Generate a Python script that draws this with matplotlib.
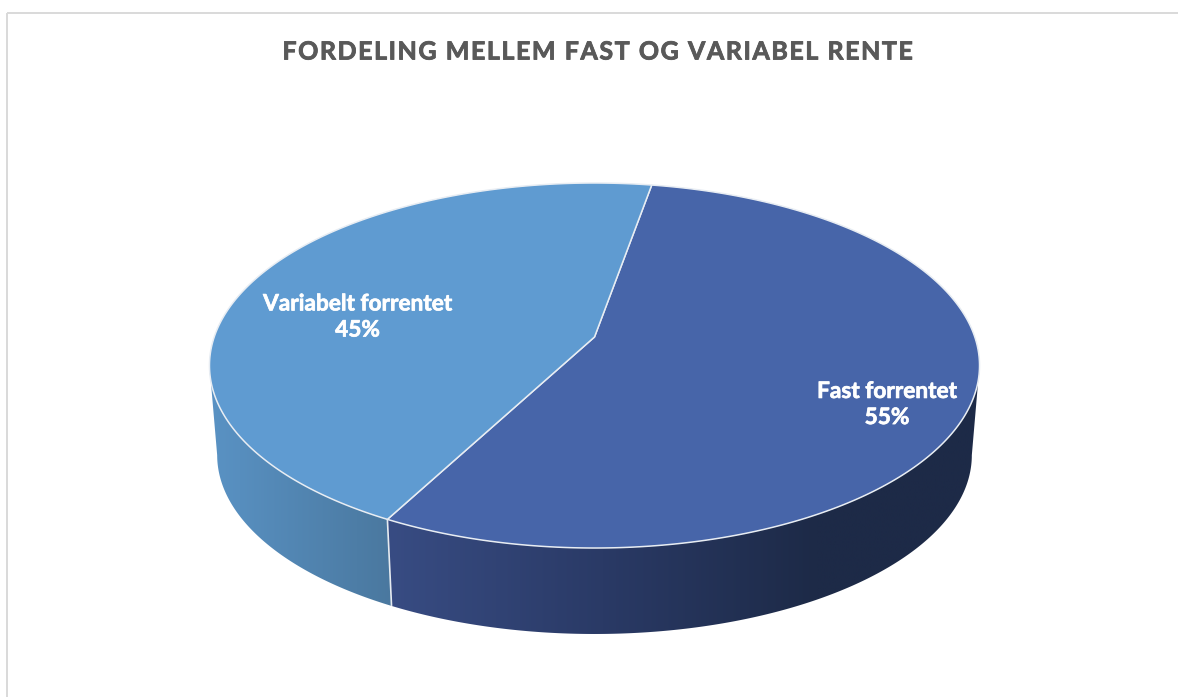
import numpy as np
import matplotlib
matplotlib.use('Agg')
import matplotlib.pyplot as plt
import matplotlib.patheffects as pe
from matplotlib.colors import LinearSegmentedColormap
from matplotlib.patches import Polygon, Rectangle

title = 'FORDELING MELLEM FAST OG VARIABEL RENTE'
categories = ['Fast forrentet', 'Variabelt forrentet']
values = [55, 45]
first_slice_angle = 10

top_colors = ['#4765a9', '#5f9bd1']
wall_colors = [['#384c83', '#2a3a66', '#1d2a47', '#1d2a47'],
               ['#5a93c5', '#4a789f']]
wall_ranges = [(388, 1000), (205, 392)]
wall_stops = [[0, 0.35, 0.7, 1], [0, 1]]
label_pos = [(887, 404.5), (357.5, 317)]

# perspective of the pie, worked out from the top and bottom of the ellipse
APEX = (594.5, 337)
SX, SY, K = 380.3, 178.05, 0.1562
WALL_DROP = 90.2
WALL_SCALE = 0.98
# only this part of the rim faces the viewer
FRONT = (np.degrees(np.arccos(-K)), 360 - np.degrees(np.arccos(-K)))


def rim(deg, drop=0, scale=1.0):
    # deg runs clockwise from 12 o'clock
    a = np.radians(deg)
    cx, cy = np.sin(a), np.cos(a)
    w = 1 + K * cy
    return np.column_stack([APEX[0] + scale * SX * cx / w,
                            APEX[1] + drop - scale * SY * cy / w])


fig = plt.figure(figsize=(11.78, 6.97), dpi=100)
ax = fig.add_axes([0, 0, 1, 1])
ax.set_xlim(0, 1178)
ax.set_ylim(697, 0)
ax.axis('off')

# chart frame
ax.add_patch(Rectangle((6.5, 12.5), 1300, 800, fill=False, ec='#d9d9d9', lw=1.4))

# hair spaces for the tracking of the title, thin stroke for the heavier look
ax.text(599, 52, '\u200a'.join(title), ha='center', va='center', color='#595959',
        fontsize=18, fontweight='bold', family=['Lato', 'DejaVu Sans'],
        path_effects=[pe.withStroke(linewidth=0.6, foreground='#595959')])

fractions = np.array(values) / sum(values)
starts = first_slice_angle + 360 * np.concatenate([[0], np.cumsum(fractions)[:-1]])
ends = starts + 360 * fractions

# side walls first, the top faces cover the back of them
for i in range(len(values)):
    deg = np.linspace(max(starts[i], FRONT[0]), min(ends[i], FRONT[1]), 300)
    top_arc = rim(deg)
    bottom_arc = rim(deg, WALL_DROP, WALL_SCALE)
    wall = Polygon(np.vstack([top_arc, bottom_arc[::-1]]), closed=True,
                   fc='none', ec='none', transform=ax.transData)
    ax.add_patch(wall)
    cmap = LinearSegmentedColormap.from_list('w%d' % i, list(zip(wall_stops[i], wall_colors[i])))
    grad = np.linspace(0, 1, 256).reshape(1, -1)
    im = ax.imshow(grad, cmap=cmap, aspect='auto', interpolation='bilinear',
                   extent=(wall_ranges[i][0], wall_ranges[i][1], 660, 300), zorder=1)
    im.set_clip_path(wall)
ax.set_xlim(0, 1178)
ax.set_ylim(697, 0)

# seam between the two walls
edge = np.vstack([rim(ends[0]), rim(ends[0], WALL_DROP, WALL_SCALE)])
ax.plot(edge[:, 0], edge[:, 1], color='#e6ebf0', lw=1.2, zorder=2, solid_capstyle='butt')

# top faces
for i in range(len(values)):
    arc = rim(np.linspace(starts[i], ends[i], 400))
    ax.add_patch(Polygon(np.vstack([[APEX], arc]), closed=True, fc=top_colors[i],
                         ec='#e8edf3', lw=1.1, joinstyle='round', zorder=3))

for i in range(len(values)):
    ax.text(label_pos[i][0], label_pos[i][1], '%s\n%d%%' % (categories[i], values[i]),
            ha='center', va='center', color='white', fontsize=16.3, fontweight='bold',
            family=['Lato', 'DejaVu Sans'], linespacing=1.3, zorder=4,
            path_effects=[pe.withStroke(linewidth=0.5, foreground='white')])

fig.savefig('out.png', dpi=100)
